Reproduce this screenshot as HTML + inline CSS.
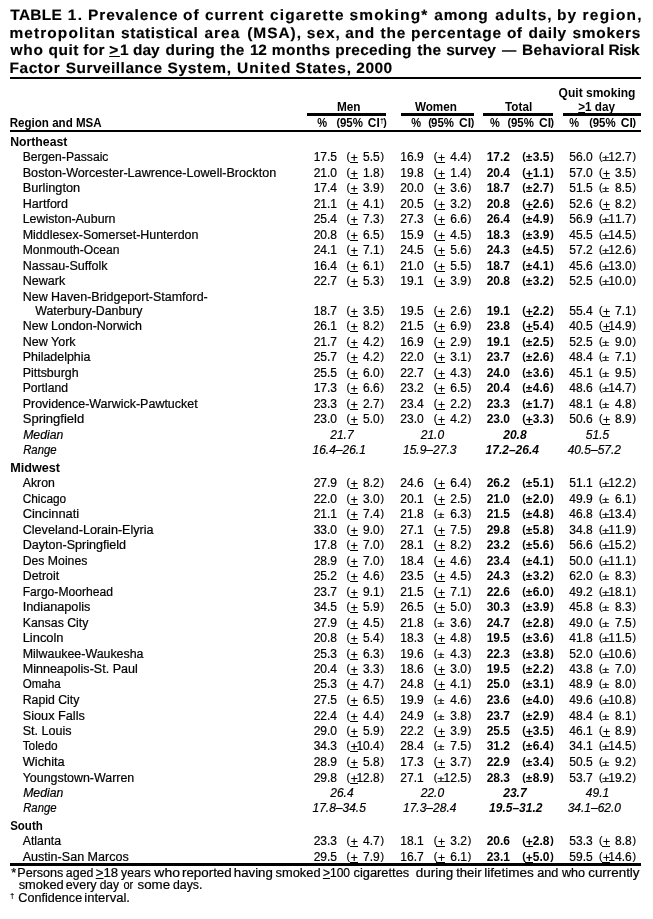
<!DOCTYPE html>
<html lang="en">
<head>
<meta charset="utf-8">
<title>TABLE 1. Prevalence of current cigarette smoking among adults</title>
<style>
html,body{margin:0;padding:0;background:#fff;}
body{width:653px;height:919px;position:relative;overflow:hidden;font-family:"Liberation Sans",sans-serif;color:#000;font-size:12.0px;line-height:14px;}
.t{position:absolute;display:block;white-space:pre;margin:0;padding:0;transform-origin:0 0;}
.t{-webkit-text-stroke:0.2px #000;}
.b{font-weight:700;-webkit-text-stroke:0;}
.i{font-style:italic;}
.n{font-kerning:none;}
.h{font-size:15.0px;line-height:18px;font-weight:700;text-rendering:geometricPrecision;-webkit-text-stroke:0.15px #000;}
.p{font-size:10.6px;}
.t u{text-decoration:underline;text-decoration-thickness:1px;text-underline-offset:1px;text-decoration-skip-ink:none;}
.r{position:absolute;background:#000;display:block;}
header,main,section,footer,.tr,.tfoot{display:block;margin:0;padding:0;}
</style>
</head>
<body>
<header class="title">
<i class="r" style="left:10px;top:77px;width:631px;height:2px"></i>
<span class="t h" style="left:10px;top:7px;transform:translateX(0.33px) scaleX(1.0300);letter-spacing:0.274px;">TABLE</span>
<span class="t h n" style="left:67px;top:7px;transform:translateX(0.63px) scaleX(1.0300);letter-spacing:1.600px;">1.</span>
<span class="t h" style="left:88px;top:7px;transform:translateX(0.07px) scaleX(1.0300);letter-spacing:0.848px;">Prevalence</span>
<span class="t h" style="left:183px;top:7px;transform:translateX(0.10px) scaleX(1.0300);letter-spacing:0.962px;">of</span>
<span class="t h" style="left:205px;top:7px;transform:translateX(0.10px) scaleX(1.0300);letter-spacing:0.803px;">current</span>
<span class="t h" style="left:269px;top:7px;transform:translateX(1.00px) scaleX(1.0300);letter-spacing:1.108px;">cigarette</span>
<span class="t h" style="left:349px;top:7px;transform:translateX(0.46px) scaleX(1.0300);letter-spacing:1.154px;">smoking*</span>
<span class="t h" style="left:434px;top:7px;transform:translateX(0.35px) scaleX(1.0300);letter-spacing:0.666px;">among</span>
<span class="t h" style="left:495px;top:7px;transform:translateX(0.25px) scaleX(1.0300);letter-spacing:1.067px;">adults,</span>
<span class="t h" style="left:557px;top:7px;transform:translateX(0.08px) scaleX(1.0300);letter-spacing:1.040px;">by</span>
<span class="t h" style="left:582px;top:7px;transform:translateX(0.58px) scaleX(1.0300);letter-spacing:1.205px;">region,</span>
<span class="t h" style="left:9px;top:25px;transform:translateX(0.48px) scaleX(1.0300);letter-spacing:1.061px;">metropolitan</span>
<span class="t h" style="left:121px;top:25px;transform:translateX(0.06px) scaleX(1.0300);letter-spacing:0.530px;">statistical</span>
<span class="t h" style="left:204px;top:25px;transform:translateX(0.45px) scaleX(1.0300);letter-spacing:0.992px;">area</span>
<span class="t h" style="left:247px;top:25px;transform:translateX(0.13px) scaleX(1.0300);letter-spacing:0.969px;">(MSA),</span>
<span class="t h" style="left:306px;top:25px;transform:translateX(0.76px) scaleX(1.0300);letter-spacing:0.941px;">sex,</span>
<span class="t h" style="left:345px;top:25px;transform:translateX(0.25px) scaleX(1.0300);letter-spacing:0.730px;">and</span>
<span class="t h" style="left:380px;top:25px;transform:translateX(0.51px) scaleX(1.0300);letter-spacing:0.845px;">the</span>
<span class="t h" style="left:410px;top:25px;transform:translateX(0.88px) scaleX(1.0300);letter-spacing:0.832px;">percentage</span>
<span class="t h" style="left:506px;top:25px;transform:translateX(0.90px) scaleX(1.0300);letter-spacing:0.380px;">of</span>
<span class="t h" style="left:528px;top:25px;transform:translateX(0.57px) scaleX(1.0300);letter-spacing:0.585px;">daily</span>
<span class="t h" style="left:572px;top:25px;transform:translateX(0.56px) scaleX(1.0300);letter-spacing:0.699px;">smokers</span>
<span class="t h" style="left:10px;top:42px;transform:translateX(0.55px) scaleX(1.0300);letter-spacing:0.760px;">who</span>
<span class="t h" style="left:48px;top:42px;transform:translateX(0.57px) scaleX(1.0300);letter-spacing:0.456px;">quit</span>
<span class="t h" style="left:83px;top:42px;transform:translateX(0.34px) scaleX(1.0300);letter-spacing:0.293px;">for</span>
<span class="t h" style="left:109px;top:42px;transform:translateX(0.21px) scaleX(1.0300);letter-spacing:1.600px;"><u>&gt;</u>1</span>
<span class="t h" style="left:132px;top:42px;transform:translateX(0.97px) scaleX(1.0300);letter-spacing:-0.003px;">day</span>
<span class="t h" style="left:165px;top:42px;transform:translateX(0.57px) scaleX(1.0300);letter-spacing:0.216px;">during</span>
<span class="t h" style="left:220px;top:42px;transform:translateX(0.21px) scaleX(1.0300);letter-spacing:0.506px;">the</span>
<span class="t h n" style="left:249px;top:42px;transform:translateX(0.93px) scaleX(1.0300);letter-spacing:-0.188px;">12</span>
<span class="t h" style="left:271px;top:42px;transform:translateX(0.78px) scaleX(1.0300);letter-spacing:0.498px;">months</span>
<span class="t h" style="left:335px;top:42px;transform:translateX(0.18px) scaleX(1.0300);letter-spacing:0.294px;">preceding</span>
<span class="t h" style="left:417px;top:42px;transform:translateX(0.21px) scaleX(1.0300);letter-spacing:0.360px;">the</span>
<span class="t h" style="left:446px;top:42px;transform:translateX(0.26px) scaleX(1.0300);letter-spacing:-0.057px;">survey</span>
<span class="t h" style="left:501px;top:42px;transform:translateX(0.90px) scaleX(0.9533);">—</span>
<span class="t h" style="left:521px;top:42px;transform:translateX(0.97px) scaleX(1.0300);letter-spacing:0.348px;">Behavioral</span>
<span class="t h" style="left:608px;top:42px;transform:translateX(0.57px) scaleX(1.0300);letter-spacing:-0.523px;">Risk</span>
<span class="t h" style="left:9px;top:60px;transform:translateX(0.47px) scaleX(1.0300);letter-spacing:0.573px;">Factor</span>
<span class="t h" style="left:65px;top:60px;transform:translateX(0.75px) scaleX(1.0300);letter-spacing:0.463px;">Surveillance</span>
<span class="t h" style="left:167px;top:60px;transform:translateX(0.55px) scaleX(1.0300);letter-spacing:0.667px;">System,</span>
<span class="t h" style="left:236px;top:60px;transform:translateX(0.97px) scaleX(1.0300);letter-spacing:1.026px;">United</span>
<span class="t h" style="left:295px;top:60px;transform:translateX(0.55px) scaleX(1.0300);letter-spacing:0.779px;">States,</span>
<span class="t h n" style="left:356px;top:60px;transform:translateX(0.36px) scaleX(1.0300);letter-spacing:0.453px;">2000</span>
</header>
<main class="table">
<section class="thead">
<i class="r" style="left:307px;top:113px;width:79px;height:3px"></i>
<i class="r" style="left:401px;top:113px;width:73px;height:3px"></i>
<i class="r" style="left:483px;top:113px;width:70px;height:3px"></i>
<i class="r" style="left:563px;top:113px;width:78px;height:3px"></i>
<i class="r" style="left:10px;top:130px;width:631px;height:2px"></i>
<span class="t b" style="left:558px;top:86px;transform:translateX(0.61px) scaleX(1.0017);">Quit smoking</span>
<span class="t b" style="left:336px;top:100px;transform:translateX(0.91px) scaleX(0.9843);">Men</span>
<span class="t b" style="left:414px;top:100px;transform:translateX(0.89px) scaleX(0.9750);">Women</span>
<span class="t b" style="left:505px;top:100px;transform:translateX(0.07px) scaleX(0.9743);">Total</span>
<span class="t b" style="left:578px;top:100px;transform:translateX(0.21px) scaleX(0.9778);"><u>&gt;</u>1 day</span>
<span class="t b" style="left:9px;top:116px;transform:translateX(0.73px) scaleX(0.9638);">Region and MSA</span>
<span class="t b" style="left:317px;top:116px;transform:translateX(0.13px) scaleX(0.9200);">%</span>
<span class="t p b" style="left:336.47px;top:115px;">(</span>
<span class="t b" style="left:339px;top:116px;transform:translateX(0.90px) scaleX(0.9534);">95%</span>
<span class="t b" style="left:367px;top:116px;transform:translateX(0.81px) scaleX(0.9902);">CI</span>
<span class="t b" style="left:380.03px;top:116px;font-size:7px;line-height:10px;">†</span>
<span class="t p b" style="left:383.30px;top:115px;">)</span>
<span class="t b" style="left:411px;top:116px;transform:translateX(0.13px) scaleX(0.9200);">%</span>
<span class="t p b" style="left:428.37px;top:115px;">(</span>
<span class="t b" style="left:431px;top:116px;transform:translateX(0.10px) scaleX(0.9534);">95%</span>
<span class="t b" style="left:459px;top:116px;transform:translateX(0.10px) scaleX(1.0089);">CI</span>
<span class="t p b" style="left:470.80px;top:115px;">)</span>
<span class="t b" style="left:490px;top:116px;transform:translateX(0.03px) scaleX(0.9200);">%</span>
<span class="t p b" style="left:507.47px;top:115px;">(</span>
<span class="t b" style="left:510px;top:116px;transform:translateX(0.90px) scaleX(0.9534);">95%</span>
<span class="t b" style="left:538px;top:116px;transform:translateX(0.90px) scaleX(1.0089);">CI</span>
<span class="t p b" style="left:550.60px;top:115px;">)</span>
<span class="t b" style="left:569px;top:116px;transform:translateX(0.13px) scaleX(0.9200);">%</span>
<span class="t p b" style="left:589.27px;top:115px;">(</span>
<span class="t b" style="left:592px;top:116px;transform:translateX(0.70px) scaleX(0.9534);">95%</span>
<span class="t b" style="left:620px;top:116px;transform:translateX(0.70px) scaleX(1.0089);">CI</span>
<span class="t p b" style="left:632.40px;top:115px;">)</span>
</section>
<div class="tr grp">
<span class="t b" style="left:10px;top:135px;transform:translateX(0.20px) scaleX(1.0203);">Northeast</span>
</div>
<div class="tr row">
<i class="r" style="left:350px;top:162px;width:8px;height:1px"></i>
<i class="r" style="left:436px;top:162px;width:9px;height:1px"></i>
<span class="t" style="left:22px;top:150px;transform:translateX(0.70px) scaleX(1.0119);">Bergen-Passaic</span>
<span class="t n" style="left:313.65px;top:150px;">17.5</span>
<span class="t p" style="left:346.59px;top:149px;">(</span>
<span class="t" style="left:350.86px;top:151px;">+</span>
<span class="t n" style="left:363.12px;top:150px;">5.5</span>
<span class="t p" style="left:380.53px;top:149px;">)</span>
<span class="t n" style="left:400.35px;top:150px;">16.9</span>
<span class="t p" style="left:433.84px;top:149px;">(</span>
<span class="t" style="left:438.11px;top:151px;">+</span>
<span class="t n" style="left:450.22px;top:150px;">4.4</span>
<span class="t p" style="left:467.63px;top:149px;">)</span>
<span class="t b n" style="left:486.68px;top:150px;">17.2</span>
<span class="t p b" style="left:522.27px;top:149px;">(</span>
<span class="t b" style="left:525px;top:150px;transform:translateX(0.81px) scale(1,0.9);transform-origin:0 11px;">±</span>
<span class="t b n" style="left:532.82px;top:150px;">3.5</span>
<span class="t p b" style="left:550.30px;top:149px;">)</span>
<span class="t n" style="left:569.35px;top:150px;">56.0</span>
<span class="t p" style="left:598.94px;top:149px;">(</span>
<span class="t" style="left:602px;top:150px;transform:translateX(0.30px) scale(1.05,0.7);transform-origin:0 11px;">±</span>
<span class="t n" style="left:608.34px;top:150px;">12.7</span>
<span class="t p" style="left:632.43px;top:149px;">)</span>
</div>
<div class="tr row">
<i class="r" style="left:350px;top:178px;width:8px;height:1px"></i>
<i class="r" style="left:436px;top:178px;width:9px;height:1px"></i>
<i class="r" style="left:525px;top:178px;width:8px;height:1px"></i>
<i class="r" style="left:602px;top:178px;width:8px;height:1px"></i>
<span class="t" style="left:22px;top:166px;transform:translateX(0.70px) scaleX(1.0510);">Boston-Worcester-Lawrence-Lowell-Brockton</span>
<span class="t n" style="left:313.65px;top:166px;">21.0</span>
<span class="t p" style="left:346.59px;top:165px;">(</span>
<span class="t" style="left:350.86px;top:167px;">+</span>
<span class="t n" style="left:363.12px;top:166px;">1.8</span>
<span class="t p" style="left:380.53px;top:165px;">)</span>
<span class="t n" style="left:400.35px;top:166px;">19.8</span>
<span class="t p" style="left:433.84px;top:165px;">(</span>
<span class="t" style="left:438.11px;top:167px;">+</span>
<span class="t n" style="left:450.22px;top:166px;">1.4</span>
<span class="t p" style="left:467.63px;top:165px;">)</span>
<span class="t b n" style="left:486.68px;top:166px;">20.4</span>
<span class="t p b" style="left:522.27px;top:165px;">(</span>
<span class="t b" style="left:525.80px;top:167px;">+</span>
<span class="t b n" style="left:532.82px;top:166px;">1.1</span>
<span class="t p b" style="left:550.30px;top:165px;">)</span>
<span class="t n" style="left:569.35px;top:166px;">57.0</span>
<span class="t p" style="left:598.94px;top:165px;">(</span>
<span class="t" style="left:603.01px;top:167px;">+</span>
<span class="t n" style="left:615.02px;top:166px;">3.5</span>
<span class="t p" style="left:632.43px;top:165px;">)</span>
</div>
<div class="tr row">
<i class="r" style="left:350px;top:193px;width:8px;height:1px"></i>
<i class="r" style="left:436px;top:193px;width:9px;height:1px"></i>
<span class="t" style="left:22px;top:181px;transform:translateX(0.70px) scaleX(1.0628);">Burlington</span>
<span class="t n" style="left:313.65px;top:181px;">17.4</span>
<span class="t p" style="left:346.59px;top:180px;">(</span>
<span class="t" style="left:350.86px;top:182px;">+</span>
<span class="t n" style="left:363.12px;top:181px;">3.9</span>
<span class="t p" style="left:380.53px;top:180px;">)</span>
<span class="t n" style="left:400.35px;top:181px;">20.0</span>
<span class="t p" style="left:433.84px;top:180px;">(</span>
<span class="t" style="left:438.11px;top:182px;">+</span>
<span class="t n" style="left:450.22px;top:181px;">3.6</span>
<span class="t p" style="left:467.63px;top:180px;">)</span>
<span class="t b n" style="left:486.68px;top:181px;">18.7</span>
<span class="t p b" style="left:522.27px;top:180px;">(</span>
<span class="t b" style="left:525px;top:181px;transform:translateX(0.81px) scale(1,0.9);transform-origin:0 11px;">±</span>
<span class="t b n" style="left:532.82px;top:181px;">2.7</span>
<span class="t p b" style="left:550.30px;top:180px;">)</span>
<span class="t n" style="left:569.35px;top:181px;">51.5</span>
<span class="t p" style="left:598.94px;top:180px;">(</span>
<span class="t" style="left:602px;top:181px;transform:translateX(0.30px) scale(1.05,0.7);transform-origin:0 11px;">±</span>
<span class="t n" style="left:615.02px;top:181px;">8.5</span>
<span class="t p" style="left:632.43px;top:180px;">)</span>
</div>
<div class="tr row">
<i class="r" style="left:350px;top:209px;width:8px;height:1px"></i>
<i class="r" style="left:436px;top:209px;width:9px;height:1px"></i>
<i class="r" style="left:525px;top:209px;width:8px;height:1px"></i>
<i class="r" style="left:602px;top:209px;width:8px;height:1px"></i>
<span class="t" style="left:22px;top:197px;transform:translateX(0.70px) scaleX(1.0452);">Hartford</span>
<span class="t n" style="left:313.65px;top:197px;">21.1</span>
<span class="t p" style="left:346.59px;top:196px;">(</span>
<span class="t" style="left:350.86px;top:198px;">+</span>
<span class="t n" style="left:363.12px;top:197px;">4.1</span>
<span class="t p" style="left:380.53px;top:196px;">)</span>
<span class="t n" style="left:400.35px;top:197px;">20.5</span>
<span class="t p" style="left:433.84px;top:196px;">(</span>
<span class="t" style="left:438.11px;top:198px;">+</span>
<span class="t n" style="left:450.22px;top:197px;">3.2</span>
<span class="t p" style="left:467.63px;top:196px;">)</span>
<span class="t b n" style="left:486.68px;top:197px;">20.8</span>
<span class="t p b" style="left:522.27px;top:196px;">(</span>
<span class="t b" style="left:525.80px;top:198px;">+</span>
<span class="t b n" style="left:532.82px;top:197px;">2.6</span>
<span class="t p b" style="left:550.30px;top:196px;">)</span>
<span class="t n" style="left:569.35px;top:197px;">52.6</span>
<span class="t p" style="left:598.94px;top:196px;">(</span>
<span class="t" style="left:603.01px;top:198px;">+</span>
<span class="t n" style="left:615.02px;top:197px;">8.2</span>
<span class="t p" style="left:632.43px;top:196px;">)</span>
</div>
<div class="tr row">
<i class="r" style="left:350px;top:224px;width:8px;height:1px"></i>
<i class="r" style="left:436px;top:224px;width:9px;height:1px"></i>
<span class="t" style="left:22px;top:212px;transform:translateX(0.70px) scaleX(1.0305);">Lewiston-Auburn</span>
<span class="t n" style="left:313.65px;top:212px;">25.4</span>
<span class="t p" style="left:346.59px;top:211px;">(</span>
<span class="t" style="left:350.86px;top:213px;">+</span>
<span class="t n" style="left:363.12px;top:212px;">7.3</span>
<span class="t p" style="left:380.53px;top:211px;">)</span>
<span class="t n" style="left:400.35px;top:212px;">27.3</span>
<span class="t p" style="left:433.84px;top:211px;">(</span>
<span class="t" style="left:438.11px;top:213px;">+</span>
<span class="t n" style="left:450.22px;top:212px;">6.6</span>
<span class="t p" style="left:467.63px;top:211px;">)</span>
<span class="t b n" style="left:486.68px;top:212px;">26.4</span>
<span class="t p b" style="left:522.27px;top:211px;">(</span>
<span class="t b" style="left:525px;top:212px;transform:translateX(0.81px) scale(1,0.9);transform-origin:0 11px;">±</span>
<span class="t b n" style="left:532.82px;top:212px;">4.9</span>
<span class="t p b" style="left:550.30px;top:211px;">)</span>
<span class="t n" style="left:569.35px;top:212px;">56.9</span>
<span class="t p" style="left:598.94px;top:211px;">(</span>
<span class="t" style="left:602px;top:212px;transform:translateX(0.30px) scale(1.05,0.7);transform-origin:0 11px;">±</span>
<span class="t n" style="left:608.34px;top:212px;">11.7</span>
<span class="t p" style="left:632.43px;top:211px;">)</span>
</div>
<div class="tr row">
<i class="r" style="left:350px;top:240px;width:8px;height:1px"></i>
<i class="r" style="left:436px;top:240px;width:9px;height:1px"></i>
<span class="t" style="left:22px;top:228px;transform:translateX(0.70px) scaleX(1.0372);">Middlesex-Somerset-Hunterdon</span>
<span class="t n" style="left:313.65px;top:228px;">20.8</span>
<span class="t p" style="left:346.59px;top:227px;">(</span>
<span class="t" style="left:350.86px;top:229px;">+</span>
<span class="t n" style="left:363.12px;top:228px;">6.5</span>
<span class="t p" style="left:380.53px;top:227px;">)</span>
<span class="t n" style="left:400.35px;top:228px;">15.9</span>
<span class="t p" style="left:433.84px;top:227px;">(</span>
<span class="t" style="left:438.11px;top:229px;">+</span>
<span class="t n" style="left:450.22px;top:228px;">4.5</span>
<span class="t p" style="left:467.63px;top:227px;">)</span>
<span class="t b n" style="left:486.68px;top:228px;">18.3</span>
<span class="t p b" style="left:522.27px;top:227px;">(</span>
<span class="t b" style="left:525px;top:228px;transform:translateX(0.81px) scale(1,0.9);transform-origin:0 11px;">±</span>
<span class="t b n" style="left:532.82px;top:228px;">3.9</span>
<span class="t p b" style="left:550.30px;top:227px;">)</span>
<span class="t n" style="left:569.35px;top:228px;">45.5</span>
<span class="t p" style="left:598.94px;top:227px;">(</span>
<span class="t" style="left:602px;top:228px;transform:translateX(0.30px) scale(1.05,0.7);transform-origin:0 11px;">±</span>
<span class="t n" style="left:608.34px;top:228px;">14.5</span>
<span class="t p" style="left:632.43px;top:227px;">)</span>
</div>
<div class="tr row">
<i class="r" style="left:350px;top:255px;width:8px;height:1px"></i>
<i class="r" style="left:436px;top:255px;width:9px;height:1px"></i>
<span class="t" style="left:22px;top:243px;transform:translateX(0.70px) scaleX(1.0077);">Monmouth-Ocean</span>
<span class="t n" style="left:313.65px;top:243px;">24.1</span>
<span class="t p" style="left:346.59px;top:242px;">(</span>
<span class="t" style="left:350.86px;top:244px;">+</span>
<span class="t n" style="left:363.12px;top:243px;">7.1</span>
<span class="t p" style="left:380.53px;top:242px;">)</span>
<span class="t n" style="left:400.35px;top:243px;">24.5</span>
<span class="t p" style="left:433.84px;top:242px;">(</span>
<span class="t" style="left:438.11px;top:244px;">+</span>
<span class="t n" style="left:450.22px;top:243px;">5.6</span>
<span class="t p" style="left:467.63px;top:242px;">)</span>
<span class="t b n" style="left:486.68px;top:243px;">24.3</span>
<span class="t p b" style="left:522.27px;top:242px;">(</span>
<span class="t b" style="left:525px;top:243px;transform:translateX(0.81px) scale(1,0.9);transform-origin:0 11px;">±</span>
<span class="t b n" style="left:532.82px;top:243px;">4.5</span>
<span class="t p b" style="left:550.30px;top:242px;">)</span>
<span class="t n" style="left:569.35px;top:243px;">57.2</span>
<span class="t p" style="left:598.94px;top:242px;">(</span>
<span class="t" style="left:602px;top:243px;transform:translateX(0.30px) scale(1.05,0.7);transform-origin:0 11px;">±</span>
<span class="t n" style="left:608.34px;top:243px;">12.6</span>
<span class="t p" style="left:632.43px;top:242px;">)</span>
</div>
<div class="tr row">
<i class="r" style="left:350px;top:271px;width:8px;height:1px"></i>
<i class="r" style="left:436px;top:271px;width:9px;height:1px"></i>
<span class="t" style="left:22px;top:259px;transform:translateX(0.70px) scaleX(1.0460);">Nassau-Suffolk</span>
<span class="t n" style="left:313.65px;top:259px;">16.4</span>
<span class="t p" style="left:346.59px;top:258px;">(</span>
<span class="t" style="left:350.86px;top:260px;">+</span>
<span class="t n" style="left:363.12px;top:259px;">6.1</span>
<span class="t p" style="left:380.53px;top:258px;">)</span>
<span class="t n" style="left:400.35px;top:259px;">21.0</span>
<span class="t p" style="left:433.84px;top:258px;">(</span>
<span class="t" style="left:438.11px;top:260px;">+</span>
<span class="t n" style="left:450.22px;top:259px;">5.5</span>
<span class="t p" style="left:467.63px;top:258px;">)</span>
<span class="t b n" style="left:486.68px;top:259px;">18.7</span>
<span class="t p b" style="left:522.27px;top:258px;">(</span>
<span class="t b" style="left:525px;top:259px;transform:translateX(0.81px) scale(1,0.9);transform-origin:0 11px;">±</span>
<span class="t b n" style="left:532.82px;top:259px;">4.1</span>
<span class="t p b" style="left:550.30px;top:258px;">)</span>
<span class="t n" style="left:569.35px;top:259px;">45.6</span>
<span class="t p" style="left:598.94px;top:258px;">(</span>
<span class="t" style="left:602px;top:259px;transform:translateX(0.30px) scale(1.05,0.7);transform-origin:0 11px;">±</span>
<span class="t n" style="left:608.34px;top:259px;">13.0</span>
<span class="t p" style="left:632.43px;top:258px;">)</span>
</div>
<div class="tr row">
<i class="r" style="left:350px;top:286px;width:8px;height:1px"></i>
<i class="r" style="left:436px;top:286px;width:9px;height:1px"></i>
<span class="t" style="left:22px;top:274px;transform:translateX(0.70px) scaleX(1.0444);">Newark</span>
<span class="t n" style="left:313.65px;top:274px;">22.7</span>
<span class="t p" style="left:346.59px;top:273px;">(</span>
<span class="t" style="left:350.86px;top:275px;">+</span>
<span class="t n" style="left:363.12px;top:274px;">5.3</span>
<span class="t p" style="left:380.53px;top:273px;">)</span>
<span class="t n" style="left:400.35px;top:274px;">19.1</span>
<span class="t p" style="left:433.84px;top:273px;">(</span>
<span class="t" style="left:438.11px;top:275px;">+</span>
<span class="t n" style="left:450.22px;top:274px;">3.9</span>
<span class="t p" style="left:467.63px;top:273px;">)</span>
<span class="t b n" style="left:486.68px;top:274px;">20.8</span>
<span class="t p b" style="left:522.27px;top:273px;">(</span>
<span class="t b" style="left:525px;top:274px;transform:translateX(0.81px) scale(1,0.9);transform-origin:0 11px;">±</span>
<span class="t b n" style="left:532.82px;top:274px;">3.2</span>
<span class="t p b" style="left:550.30px;top:273px;">)</span>
<span class="t n" style="left:569.35px;top:274px;">52.5</span>
<span class="t p" style="left:598.94px;top:273px;">(</span>
<span class="t" style="left:602px;top:274px;transform:translateX(0.30px) scale(1.05,0.7);transform-origin:0 11px;">±</span>
<span class="t n" style="left:608.34px;top:274px;">10.0</span>
<span class="t p" style="left:632.43px;top:273px;">)</span>
</div>
<div class="tr row">
<span class="t" style="left:22px;top:290px;transform:translateX(0.70px) scaleX(1.0392);">New Haven-Bridgeport-Stamford-</span>
</div>
<div class="tr row">
<i class="r" style="left:350px;top:316px;width:8px;height:1px"></i>
<i class="r" style="left:436px;top:316px;width:9px;height:1px"></i>
<i class="r" style="left:525px;top:316px;width:8px;height:1px"></i>
<i class="r" style="left:602px;top:316px;width:8px;height:1px"></i>
<span class="t" style="left:35px;top:304px;transform:translateX(0.20px) scaleX(1.0294);">Waterbury-Danbury</span>
<span class="t n" style="left:313.65px;top:304px;">18.7</span>
<span class="t p" style="left:346.59px;top:303px;">(</span>
<span class="t" style="left:350.86px;top:305px;">+</span>
<span class="t n" style="left:363.12px;top:304px;">3.5</span>
<span class="t p" style="left:380.53px;top:303px;">)</span>
<span class="t n" style="left:400.35px;top:304px;">19.5</span>
<span class="t p" style="left:433.84px;top:303px;">(</span>
<span class="t" style="left:438.11px;top:305px;">+</span>
<span class="t n" style="left:450.22px;top:304px;">2.6</span>
<span class="t p" style="left:467.63px;top:303px;">)</span>
<span class="t b n" style="left:486.68px;top:304px;">19.1</span>
<span class="t p b" style="left:522.27px;top:303px;">(</span>
<span class="t b" style="left:525.80px;top:305px;">+</span>
<span class="t b n" style="left:532.82px;top:304px;">2.2</span>
<span class="t p b" style="left:550.30px;top:303px;">)</span>
<span class="t n" style="left:569.35px;top:304px;">55.4</span>
<span class="t p" style="left:598.94px;top:303px;">(</span>
<span class="t" style="left:603.01px;top:305px;">+</span>
<span class="t n" style="left:615.02px;top:304px;">7.1</span>
<span class="t p" style="left:632.43px;top:303px;">)</span>
</div>
<div class="tr row">
<i class="r" style="left:350px;top:331px;width:8px;height:1px"></i>
<i class="r" style="left:436px;top:331px;width:9px;height:1px"></i>
<i class="r" style="left:525px;top:331px;width:8px;height:1px"></i>
<i class="r" style="left:602px;top:331px;width:8px;height:1px"></i>
<span class="t" style="left:22px;top:319px;transform:translateX(0.70px) scaleX(1.0383);">New London-Norwich</span>
<span class="t n" style="left:313.65px;top:319px;">26.1</span>
<span class="t p" style="left:346.59px;top:318px;">(</span>
<span class="t" style="left:350.86px;top:320px;">+</span>
<span class="t n" style="left:363.12px;top:319px;">8.2</span>
<span class="t p" style="left:380.53px;top:318px;">)</span>
<span class="t n" style="left:400.35px;top:319px;">21.5</span>
<span class="t p" style="left:433.84px;top:318px;">(</span>
<span class="t" style="left:438.11px;top:320px;">+</span>
<span class="t n" style="left:450.22px;top:319px;">6.9</span>
<span class="t p" style="left:467.63px;top:318px;">)</span>
<span class="t b n" style="left:486.68px;top:319px;">23.8</span>
<span class="t p b" style="left:522.27px;top:318px;">(</span>
<span class="t b" style="left:525.80px;top:320px;">+</span>
<span class="t b n" style="left:532.82px;top:319px;">5.4</span>
<span class="t p b" style="left:550.30px;top:318px;">)</span>
<span class="t n" style="left:569.35px;top:319px;">40.5</span>
<span class="t p" style="left:598.94px;top:318px;">(</span>
<span class="t" style="left:603.01px;top:320px;">+</span>
<span class="t n" style="left:608.34px;top:319px;">14.9</span>
<span class="t p" style="left:632.43px;top:318px;">)</span>
</div>
<div class="tr row">
<i class="r" style="left:350px;top:347px;width:8px;height:1px"></i>
<i class="r" style="left:436px;top:347px;width:9px;height:1px"></i>
<span class="t" style="left:22px;top:335px;transform:translateX(0.70px) scaleX(1.0426);">New York</span>
<span class="t n" style="left:313.65px;top:335px;">21.7</span>
<span class="t p" style="left:346.59px;top:334px;">(</span>
<span class="t" style="left:350.86px;top:336px;">+</span>
<span class="t n" style="left:363.12px;top:335px;">4.2</span>
<span class="t p" style="left:380.53px;top:334px;">)</span>
<span class="t n" style="left:400.35px;top:335px;">16.9</span>
<span class="t p" style="left:433.84px;top:334px;">(</span>
<span class="t" style="left:438.11px;top:336px;">+</span>
<span class="t n" style="left:450.22px;top:335px;">2.9</span>
<span class="t p" style="left:467.63px;top:334px;">)</span>
<span class="t b n" style="left:486.68px;top:335px;">19.1</span>
<span class="t p b" style="left:522.27px;top:334px;">(</span>
<span class="t b" style="left:525px;top:335px;transform:translateX(0.81px) scale(1,0.9);transform-origin:0 11px;">±</span>
<span class="t b n" style="left:532.82px;top:335px;">2.5</span>
<span class="t p b" style="left:550.30px;top:334px;">)</span>
<span class="t n" style="left:569.35px;top:335px;">52.5</span>
<span class="t p" style="left:598.94px;top:334px;">(</span>
<span class="t" style="left:602px;top:335px;transform:translateX(0.30px) scale(1.05,0.7);transform-origin:0 11px;">±</span>
<span class="t n" style="left:615.02px;top:335px;">9.0</span>
<span class="t p" style="left:632.43px;top:334px;">)</span>
</div>
<div class="tr row">
<i class="r" style="left:350px;top:362px;width:8px;height:1px"></i>
<i class="r" style="left:436px;top:362px;width:9px;height:1px"></i>
<span class="t" style="left:22px;top:350px;transform:translateX(0.70px) scaleX(1.0354);">Philadelphia</span>
<span class="t n" style="left:313.65px;top:350px;">25.7</span>
<span class="t p" style="left:346.59px;top:349px;">(</span>
<span class="t" style="left:350.86px;top:351px;">+</span>
<span class="t n" style="left:363.12px;top:350px;">4.2</span>
<span class="t p" style="left:380.53px;top:349px;">)</span>
<span class="t n" style="left:400.35px;top:350px;">22.0</span>
<span class="t p" style="left:433.84px;top:349px;">(</span>
<span class="t" style="left:438.11px;top:351px;">+</span>
<span class="t n" style="left:450.22px;top:350px;">3.1</span>
<span class="t p" style="left:467.63px;top:349px;">)</span>
<span class="t b n" style="left:486.68px;top:350px;">23.7</span>
<span class="t p b" style="left:522.27px;top:349px;">(</span>
<span class="t b" style="left:525px;top:350px;transform:translateX(0.81px) scale(1,0.9);transform-origin:0 11px;">±</span>
<span class="t b n" style="left:532.82px;top:350px;">2.6</span>
<span class="t p b" style="left:550.30px;top:349px;">)</span>
<span class="t n" style="left:569.35px;top:350px;">48.4</span>
<span class="t p" style="left:598.94px;top:349px;">(</span>
<span class="t" style="left:602px;top:350px;transform:translateX(0.30px) scale(1.05,0.7);transform-origin:0 11px;">±</span>
<span class="t n" style="left:615.02px;top:350px;">7.1</span>
<span class="t p" style="left:632.43px;top:349px;">)</span>
</div>
<div class="tr row">
<i class="r" style="left:350px;top:378px;width:8px;height:1px"></i>
<i class="r" style="left:436px;top:378px;width:9px;height:1px"></i>
<span class="t" style="left:22px;top:366px;transform:translateX(0.70px) scaleX(1.0347);">Pittsburgh</span>
<span class="t n" style="left:313.65px;top:366px;">25.5</span>
<span class="t p" style="left:346.59px;top:365px;">(</span>
<span class="t" style="left:350.86px;top:367px;">+</span>
<span class="t n" style="left:363.12px;top:366px;">6.0</span>
<span class="t p" style="left:380.53px;top:365px;">)</span>
<span class="t n" style="left:400.35px;top:366px;">22.7</span>
<span class="t p" style="left:433.84px;top:365px;">(</span>
<span class="t" style="left:438.11px;top:367px;">+</span>
<span class="t n" style="left:450.22px;top:366px;">4.3</span>
<span class="t p" style="left:467.63px;top:365px;">)</span>
<span class="t b n" style="left:486.68px;top:366px;">24.0</span>
<span class="t p b" style="left:522.27px;top:365px;">(</span>
<span class="t b" style="left:525px;top:366px;transform:translateX(0.81px) scale(1,0.9);transform-origin:0 11px;">±</span>
<span class="t b n" style="left:532.82px;top:366px;">3.6</span>
<span class="t p b" style="left:550.30px;top:365px;">)</span>
<span class="t n" style="left:569.35px;top:366px;">45.1</span>
<span class="t p" style="left:598.94px;top:365px;">(</span>
<span class="t" style="left:602px;top:366px;transform:translateX(0.30px) scale(1.05,0.7);transform-origin:0 11px;">±</span>
<span class="t n" style="left:615.02px;top:366px;">9.5</span>
<span class="t p" style="left:632.43px;top:365px;">)</span>
</div>
<div class="tr row">
<i class="r" style="left:350px;top:393px;width:8px;height:1px"></i>
<i class="r" style="left:436px;top:393px;width:9px;height:1px"></i>
<span class="t" style="left:22px;top:381px;transform:translateX(0.70px) scaleX(1.0132);">Portland</span>
<span class="t n" style="left:313.65px;top:381px;">17.3</span>
<span class="t p" style="left:346.59px;top:380px;">(</span>
<span class="t" style="left:350.86px;top:382px;">+</span>
<span class="t n" style="left:363.12px;top:381px;">6.6</span>
<span class="t p" style="left:380.53px;top:380px;">)</span>
<span class="t n" style="left:400.35px;top:381px;">23.2</span>
<span class="t p" style="left:433.84px;top:380px;">(</span>
<span class="t" style="left:438.11px;top:382px;">+</span>
<span class="t n" style="left:450.22px;top:381px;">6.5</span>
<span class="t p" style="left:467.63px;top:380px;">)</span>
<span class="t b n" style="left:486.68px;top:381px;">20.4</span>
<span class="t p b" style="left:522.27px;top:380px;">(</span>
<span class="t b" style="left:525px;top:381px;transform:translateX(0.81px) scale(1,0.9);transform-origin:0 11px;">±</span>
<span class="t b n" style="left:532.82px;top:381px;">4.6</span>
<span class="t p b" style="left:550.30px;top:380px;">)</span>
<span class="t n" style="left:569.35px;top:381px;">48.6</span>
<span class="t p" style="left:598.94px;top:380px;">(</span>
<span class="t" style="left:602px;top:381px;transform:translateX(0.30px) scale(1.05,0.7);transform-origin:0 11px;">±</span>
<span class="t n" style="left:608.34px;top:381px;">14.7</span>
<span class="t p" style="left:632.43px;top:380px;">)</span>
</div>
<div class="tr row">
<i class="r" style="left:350px;top:409px;width:8px;height:1px"></i>
<i class="r" style="left:436px;top:409px;width:9px;height:1px"></i>
<span class="t" style="left:22px;top:397px;transform:translateX(0.70px) scaleX(1.0399);">Providence-Warwick-Pawtucket</span>
<span class="t n" style="left:313.65px;top:397px;">23.3</span>
<span class="t p" style="left:346.59px;top:396px;">(</span>
<span class="t" style="left:350.86px;top:398px;">+</span>
<span class="t n" style="left:363.12px;top:397px;">2.7</span>
<span class="t p" style="left:380.53px;top:396px;">)</span>
<span class="t n" style="left:400.35px;top:397px;">23.4</span>
<span class="t p" style="left:433.84px;top:396px;">(</span>
<span class="t" style="left:438.11px;top:398px;">+</span>
<span class="t n" style="left:450.22px;top:397px;">2.2</span>
<span class="t p" style="left:467.63px;top:396px;">)</span>
<span class="t b n" style="left:486.68px;top:397px;">23.3</span>
<span class="t p b" style="left:522.27px;top:396px;">(</span>
<span class="t b" style="left:525px;top:397px;transform:translateX(0.81px) scale(1,0.9);transform-origin:0 11px;">±</span>
<span class="t b n" style="left:532.82px;top:397px;">1.7</span>
<span class="t p b" style="left:550.30px;top:396px;">)</span>
<span class="t n" style="left:569.35px;top:397px;">48.1</span>
<span class="t p" style="left:598.94px;top:396px;">(</span>
<span class="t" style="left:602px;top:397px;transform:translateX(0.30px) scale(1.05,0.7);transform-origin:0 11px;">±</span>
<span class="t n" style="left:615.02px;top:397px;">4.8</span>
<span class="t p" style="left:632.43px;top:396px;">)</span>
</div>
<div class="tr row">
<i class="r" style="left:350px;top:424px;width:8px;height:1px"></i>
<i class="r" style="left:436px;top:424px;width:9px;height:1px"></i>
<i class="r" style="left:525px;top:424px;width:8px;height:1px"></i>
<i class="r" style="left:602px;top:424px;width:8px;height:1px"></i>
<span class="t" style="left:22px;top:412px;transform:translateX(0.70px) scaleX(1.0853);">Springfield</span>
<span class="t n" style="left:313.65px;top:412px;">23.0</span>
<span class="t p" style="left:346.59px;top:411px;">(</span>
<span class="t" style="left:350.86px;top:413px;">+</span>
<span class="t n" style="left:363.12px;top:412px;">5.0</span>
<span class="t p" style="left:380.53px;top:411px;">)</span>
<span class="t n" style="left:400.35px;top:412px;">23.0</span>
<span class="t p" style="left:433.84px;top:411px;">(</span>
<span class="t" style="left:438.11px;top:413px;">+</span>
<span class="t n" style="left:450.22px;top:412px;">4.2</span>
<span class="t p" style="left:467.63px;top:411px;">)</span>
<span class="t b n" style="left:486.68px;top:412px;">23.0</span>
<span class="t p b" style="left:522.27px;top:411px;">(</span>
<span class="t b" style="left:525.80px;top:413px;">+</span>
<span class="t b n" style="left:532.82px;top:412px;">3.3</span>
<span class="t p b" style="left:550.30px;top:411px;">)</span>
<span class="t n" style="left:569.35px;top:412px;">50.6</span>
<span class="t p" style="left:598.94px;top:411px;">(</span>
<span class="t" style="left:603.01px;top:413px;">+</span>
<span class="t n" style="left:615.02px;top:412px;">8.9</span>
<span class="t p" style="left:632.43px;top:411px;">)</span>
</div>
<div class="tr stat">
<span class="t i" style="left:23px;top:428px;transform:translateX(0.20px) scaleX(1.0177);">Median</span>
<span class="t i n" style="left:330.22px;top:428px;">21.7</span>
<span class="t i n" style="left:420.76px;top:428px;">21.0</span>
<span class="t b i n" style="left:503.27px;top:428px;">20.8</span>
<span class="t i n" style="left:585.87px;top:428px;">51.5</span>
</div>
<div class="tr stat">
<span class="t i" style="left:23px;top:443px;transform:translateX(0.20px) scaleX(0.9423);">Range</span>
<span class="t i n" style="left:312.46px;top:443px;">16.4–26.1</span>
<span class="t i n" style="left:403.01px;top:443px;">15.9–27.3</span>
<span class="t b i n" style="left:485.56px;top:443px;">17.2–26.4</span>
<span class="t i n" style="left:567.66px;top:443px;">40.5–57.2</span>
</div>
<div class="tr grp">
<span class="t b" style="left:10px;top:461px;transform:translateX(0.20px) scaleX(1.0532);">Midwest</span>
</div>
<div class="tr row">
<i class="r" style="left:350px;top:488px;width:8px;height:1px"></i>
<i class="r" style="left:436px;top:488px;width:9px;height:1px"></i>
<span class="t" style="left:22px;top:476px;transform:translateX(0.70px) scaleX(1.0239);">Akron</span>
<span class="t n" style="left:313.65px;top:476px;">27.9</span>
<span class="t p" style="left:346.59px;top:475px;">(</span>
<span class="t" style="left:350.86px;top:477px;">+</span>
<span class="t n" style="left:363.12px;top:476px;">8.2</span>
<span class="t p" style="left:380.53px;top:475px;">)</span>
<span class="t n" style="left:400.35px;top:476px;">24.6</span>
<span class="t p" style="left:433.84px;top:475px;">(</span>
<span class="t" style="left:438.11px;top:477px;">+</span>
<span class="t n" style="left:450.22px;top:476px;">6.4</span>
<span class="t p" style="left:467.63px;top:475px;">)</span>
<span class="t b n" style="left:486.68px;top:476px;">26.2</span>
<span class="t p b" style="left:522.27px;top:475px;">(</span>
<span class="t b" style="left:525px;top:476px;transform:translateX(0.81px) scale(1,0.9);transform-origin:0 11px;">±</span>
<span class="t b n" style="left:532.82px;top:476px;">5.1</span>
<span class="t p b" style="left:550.30px;top:475px;">)</span>
<span class="t n" style="left:569.35px;top:476px;">51.1</span>
<span class="t p" style="left:598.94px;top:475px;">(</span>
<span class="t" style="left:602px;top:476px;transform:translateX(0.30px) scale(1.05,0.7);transform-origin:0 11px;">±</span>
<span class="t n" style="left:608.34px;top:476px;">12.2</span>
<span class="t p" style="left:632.43px;top:475px;">)</span>
</div>
<div class="tr row">
<i class="r" style="left:350px;top:504px;width:8px;height:1px"></i>
<i class="r" style="left:436px;top:504px;width:9px;height:1px"></i>
<span class="t" style="left:22px;top:492px;transform:translateX(0.70px) scaleX(0.9880);">Chicago</span>
<span class="t n" style="left:313.65px;top:492px;">22.0</span>
<span class="t p" style="left:346.59px;top:491px;">(</span>
<span class="t" style="left:350.86px;top:493px;">+</span>
<span class="t n" style="left:363.12px;top:492px;">3.0</span>
<span class="t p" style="left:380.53px;top:491px;">)</span>
<span class="t n" style="left:400.35px;top:492px;">20.1</span>
<span class="t p" style="left:433.84px;top:491px;">(</span>
<span class="t" style="left:438.11px;top:493px;">+</span>
<span class="t n" style="left:450.22px;top:492px;">2.5</span>
<span class="t p" style="left:467.63px;top:491px;">)</span>
<span class="t b n" style="left:486.68px;top:492px;">21.0</span>
<span class="t p b" style="left:522.27px;top:491px;">(</span>
<span class="t b" style="left:525px;top:492px;transform:translateX(0.81px) scale(1,0.9);transform-origin:0 11px;">±</span>
<span class="t b n" style="left:532.82px;top:492px;">2.0</span>
<span class="t p b" style="left:550.30px;top:491px;">)</span>
<span class="t n" style="left:569.35px;top:492px;">49.9</span>
<span class="t p" style="left:598.94px;top:491px;">(</span>
<span class="t" style="left:602px;top:492px;transform:translateX(0.30px) scale(1.05,0.7);transform-origin:0 11px;">±</span>
<span class="t n" style="left:615.02px;top:492px;">6.1</span>
<span class="t p" style="left:632.43px;top:491px;">)</span>
</div>
<div class="tr row">
<i class="r" style="left:350px;top:519px;width:8px;height:1px"></i>
<span class="t" style="left:22px;top:507px;transform:translateX(0.70px) scaleX(1.0716);">Cincinnati</span>
<span class="t n" style="left:313.65px;top:507px;">21.1</span>
<span class="t p" style="left:346.59px;top:506px;">(</span>
<span class="t" style="left:350.86px;top:508px;">+</span>
<span class="t n" style="left:363.12px;top:507px;">7.4</span>
<span class="t p" style="left:380.53px;top:506px;">)</span>
<span class="t n" style="left:400.35px;top:507px;">21.8</span>
<span class="t p" style="left:433.84px;top:506px;">(</span>
<span class="t" style="left:437px;top:507px;transform:translateX(0.40px) scale(1.05,0.7);transform-origin:0 11px;">±</span>
<span class="t n" style="left:450.22px;top:507px;">6.3</span>
<span class="t p" style="left:467.63px;top:506px;">)</span>
<span class="t b n" style="left:486.68px;top:507px;">21.5</span>
<span class="t p b" style="left:522.27px;top:506px;">(</span>
<span class="t b" style="left:525px;top:507px;transform:translateX(0.81px) scale(1,0.9);transform-origin:0 11px;">±</span>
<span class="t b n" style="left:532.82px;top:507px;">4.8</span>
<span class="t p b" style="left:550.30px;top:506px;">)</span>
<span class="t n" style="left:569.35px;top:507px;">46.8</span>
<span class="t p" style="left:598.94px;top:506px;">(</span>
<span class="t" style="left:602px;top:507px;transform:translateX(0.30px) scale(1.05,0.7);transform-origin:0 11px;">±</span>
<span class="t n" style="left:608.34px;top:507px;">13.4</span>
<span class="t p" style="left:632.43px;top:506px;">)</span>
</div>
<div class="tr row">
<i class="r" style="left:350px;top:535px;width:8px;height:1px"></i>
<i class="r" style="left:436px;top:535px;width:9px;height:1px"></i>
<span class="t" style="left:22px;top:523px;transform:translateX(0.70px) scaleX(1.0495);">Cleveland-Lorain-Elyria</span>
<span class="t n" style="left:313.65px;top:523px;">33.0</span>
<span class="t p" style="left:346.59px;top:522px;">(</span>
<span class="t" style="left:350.86px;top:524px;">+</span>
<span class="t n" style="left:363.12px;top:523px;">9.0</span>
<span class="t p" style="left:380.53px;top:522px;">)</span>
<span class="t n" style="left:400.35px;top:523px;">27.1</span>
<span class="t p" style="left:433.84px;top:522px;">(</span>
<span class="t" style="left:438.11px;top:524px;">+</span>
<span class="t n" style="left:450.22px;top:523px;">7.5</span>
<span class="t p" style="left:467.63px;top:522px;">)</span>
<span class="t b n" style="left:486.68px;top:523px;">29.8</span>
<span class="t p b" style="left:522.27px;top:522px;">(</span>
<span class="t b" style="left:525px;top:523px;transform:translateX(0.81px) scale(1,0.9);transform-origin:0 11px;">±</span>
<span class="t b n" style="left:532.82px;top:523px;">5.8</span>
<span class="t p b" style="left:550.30px;top:522px;">)</span>
<span class="t n" style="left:569.35px;top:523px;">34.8</span>
<span class="t p" style="left:598.94px;top:522px;">(</span>
<span class="t" style="left:602px;top:523px;transform:translateX(0.30px) scale(1.05,0.7);transform-origin:0 11px;">±</span>
<span class="t n" style="left:608.34px;top:523px;">11.9</span>
<span class="t p" style="left:632.43px;top:522px;">)</span>
</div>
<div class="tr row">
<i class="r" style="left:350px;top:550px;width:8px;height:1px"></i>
<i class="r" style="left:436px;top:550px;width:9px;height:1px"></i>
<span class="t" style="left:22px;top:538px;transform:translateX(0.70px) scaleX(1.0475);">Dayton-Springfield</span>
<span class="t n" style="left:313.65px;top:538px;">17.8</span>
<span class="t p" style="left:346.59px;top:537px;">(</span>
<span class="t" style="left:350.86px;top:539px;">+</span>
<span class="t n" style="left:363.12px;top:538px;">7.0</span>
<span class="t p" style="left:380.53px;top:537px;">)</span>
<span class="t n" style="left:400.35px;top:538px;">28.1</span>
<span class="t p" style="left:433.84px;top:537px;">(</span>
<span class="t" style="left:438.11px;top:539px;">+</span>
<span class="t n" style="left:450.22px;top:538px;">8.2</span>
<span class="t p" style="left:467.63px;top:537px;">)</span>
<span class="t b n" style="left:486.68px;top:538px;">23.2</span>
<span class="t p b" style="left:522.27px;top:537px;">(</span>
<span class="t b" style="left:525px;top:538px;transform:translateX(0.81px) scale(1,0.9);transform-origin:0 11px;">±</span>
<span class="t b n" style="left:532.82px;top:538px;">5.6</span>
<span class="t p b" style="left:550.30px;top:537px;">)</span>
<span class="t n" style="left:569.35px;top:538px;">56.6</span>
<span class="t p" style="left:598.94px;top:537px;">(</span>
<span class="t" style="left:602px;top:538px;transform:translateX(0.30px) scale(1.05,0.7);transform-origin:0 11px;">±</span>
<span class="t n" style="left:608.34px;top:538px;">15.2</span>
<span class="t p" style="left:632.43px;top:537px;">)</span>
</div>
<div class="tr row">
<i class="r" style="left:350px;top:566px;width:8px;height:1px"></i>
<i class="r" style="left:436px;top:566px;width:9px;height:1px"></i>
<span class="t" style="left:22px;top:554px;transform:translateX(0.70px) scaleX(1.0203);">Des Moines</span>
<span class="t n" style="left:313.65px;top:554px;">28.9</span>
<span class="t p" style="left:346.59px;top:553px;">(</span>
<span class="t" style="left:350.86px;top:555px;">+</span>
<span class="t n" style="left:363.12px;top:554px;">7.0</span>
<span class="t p" style="left:380.53px;top:553px;">)</span>
<span class="t n" style="left:400.35px;top:554px;">18.4</span>
<span class="t p" style="left:433.84px;top:553px;">(</span>
<span class="t" style="left:438.11px;top:555px;">+</span>
<span class="t n" style="left:450.22px;top:554px;">4.6</span>
<span class="t p" style="left:467.63px;top:553px;">)</span>
<span class="t b n" style="left:486.68px;top:554px;">23.4</span>
<span class="t p b" style="left:522.27px;top:553px;">(</span>
<span class="t b" style="left:525px;top:554px;transform:translateX(0.81px) scale(1,0.9);transform-origin:0 11px;">±</span>
<span class="t b n" style="left:532.82px;top:554px;">4.1</span>
<span class="t p b" style="left:550.30px;top:553px;">)</span>
<span class="t n" style="left:569.35px;top:554px;">50.0</span>
<span class="t p" style="left:598.94px;top:553px;">(</span>
<span class="t" style="left:602px;top:554px;transform:translateX(0.30px) scale(1.05,0.7);transform-origin:0 11px;">±</span>
<span class="t n" style="left:608.34px;top:554px;">11.1</span>
<span class="t p" style="left:632.43px;top:553px;">)</span>
</div>
<div class="tr row">
<i class="r" style="left:350px;top:581px;width:8px;height:1px"></i>
<i class="r" style="left:436px;top:581px;width:9px;height:1px"></i>
<span class="t" style="left:22px;top:569px;transform:translateX(0.70px) scaleX(1.0325);">Detroit</span>
<span class="t n" style="left:313.65px;top:569px;">25.2</span>
<span class="t p" style="left:346.59px;top:568px;">(</span>
<span class="t" style="left:350.86px;top:570px;">+</span>
<span class="t n" style="left:363.12px;top:569px;">4.6</span>
<span class="t p" style="left:380.53px;top:568px;">)</span>
<span class="t n" style="left:400.35px;top:569px;">23.5</span>
<span class="t p" style="left:433.84px;top:568px;">(</span>
<span class="t" style="left:438.11px;top:570px;">+</span>
<span class="t n" style="left:450.22px;top:569px;">4.5</span>
<span class="t p" style="left:467.63px;top:568px;">)</span>
<span class="t b n" style="left:486.68px;top:569px;">24.3</span>
<span class="t p b" style="left:522.27px;top:568px;">(</span>
<span class="t b" style="left:525px;top:569px;transform:translateX(0.81px) scale(1,0.9);transform-origin:0 11px;">±</span>
<span class="t b n" style="left:532.82px;top:569px;">3.2</span>
<span class="t p b" style="left:550.30px;top:568px;">)</span>
<span class="t n" style="left:569.35px;top:569px;">62.0</span>
<span class="t p" style="left:598.94px;top:568px;">(</span>
<span class="t" style="left:602px;top:569px;transform:translateX(0.30px) scale(1.05,0.7);transform-origin:0 11px;">±</span>
<span class="t n" style="left:615.02px;top:569px;">8.3</span>
<span class="t p" style="left:632.43px;top:568px;">)</span>
</div>
<div class="tr row">
<i class="r" style="left:350px;top:597px;width:8px;height:1px"></i>
<i class="r" style="left:436px;top:597px;width:9px;height:1px"></i>
<span class="t" style="left:22px;top:585px;transform:translateX(0.70px) scaleX(1.0101);">Fargo-Moorhead</span>
<span class="t n" style="left:313.65px;top:585px;">23.7</span>
<span class="t p" style="left:346.59px;top:584px;">(</span>
<span class="t" style="left:350.86px;top:586px;">+</span>
<span class="t n" style="left:363.12px;top:585px;">9.1</span>
<span class="t p" style="left:380.53px;top:584px;">)</span>
<span class="t n" style="left:400.35px;top:585px;">21.5</span>
<span class="t p" style="left:433.84px;top:584px;">(</span>
<span class="t" style="left:438.11px;top:586px;">+</span>
<span class="t n" style="left:450.22px;top:585px;">7.1</span>
<span class="t p" style="left:467.63px;top:584px;">)</span>
<span class="t b n" style="left:486.68px;top:585px;">22.6</span>
<span class="t p b" style="left:522.27px;top:584px;">(</span>
<span class="t b" style="left:525px;top:585px;transform:translateX(0.81px) scale(1,0.9);transform-origin:0 11px;">±</span>
<span class="t b n" style="left:532.82px;top:585px;">6.0</span>
<span class="t p b" style="left:550.30px;top:584px;">)</span>
<span class="t n" style="left:569.35px;top:585px;">49.2</span>
<span class="t p" style="left:598.94px;top:584px;">(</span>
<span class="t" style="left:602px;top:585px;transform:translateX(0.30px) scale(1.05,0.7);transform-origin:0 11px;">±</span>
<span class="t n" style="left:608.34px;top:585px;">18.1</span>
<span class="t p" style="left:632.43px;top:584px;">)</span>
</div>
<div class="tr row">
<i class="r" style="left:350px;top:612px;width:8px;height:1px"></i>
<i class="r" style="left:436px;top:612px;width:9px;height:1px"></i>
<span class="t" style="left:22px;top:600px;transform:translateX(0.70px) scaleX(1.0564);">Indianapolis</span>
<span class="t n" style="left:313.65px;top:600px;">34.5</span>
<span class="t p" style="left:346.59px;top:599px;">(</span>
<span class="t" style="left:350.86px;top:601px;">+</span>
<span class="t n" style="left:363.12px;top:600px;">5.9</span>
<span class="t p" style="left:380.53px;top:599px;">)</span>
<span class="t n" style="left:400.35px;top:600px;">26.5</span>
<span class="t p" style="left:433.84px;top:599px;">(</span>
<span class="t" style="left:438.11px;top:601px;">+</span>
<span class="t n" style="left:450.22px;top:600px;">5.0</span>
<span class="t p" style="left:467.63px;top:599px;">)</span>
<span class="t b n" style="left:486.68px;top:600px;">30.3</span>
<span class="t p b" style="left:522.27px;top:599px;">(</span>
<span class="t b" style="left:525px;top:600px;transform:translateX(0.81px) scale(1,0.9);transform-origin:0 11px;">±</span>
<span class="t b n" style="left:532.82px;top:600px;">3.9</span>
<span class="t p b" style="left:550.30px;top:599px;">)</span>
<span class="t n" style="left:569.35px;top:600px;">45.8</span>
<span class="t p" style="left:598.94px;top:599px;">(</span>
<span class="t" style="left:602px;top:600px;transform:translateX(0.30px) scale(1.05,0.7);transform-origin:0 11px;">±</span>
<span class="t n" style="left:615.02px;top:600px;">8.3</span>
<span class="t p" style="left:632.43px;top:599px;">)</span>
</div>
<div class="tr row">
<i class="r" style="left:350px;top:628px;width:8px;height:1px"></i>
<span class="t" style="left:22px;top:616px;transform:translateX(0.70px) scaleX(1.0265);">Kansas City</span>
<span class="t n" style="left:313.65px;top:616px;">27.9</span>
<span class="t p" style="left:346.59px;top:615px;">(</span>
<span class="t" style="left:350.86px;top:617px;">+</span>
<span class="t n" style="left:363.12px;top:616px;">4.5</span>
<span class="t p" style="left:380.53px;top:615px;">)</span>
<span class="t n" style="left:400.35px;top:616px;">21.8</span>
<span class="t p" style="left:433.84px;top:615px;">(</span>
<span class="t" style="left:437px;top:616px;transform:translateX(0.40px) scale(1.05,0.7);transform-origin:0 11px;">±</span>
<span class="t n" style="left:450.22px;top:616px;">3.6</span>
<span class="t p" style="left:467.63px;top:615px;">)</span>
<span class="t b n" style="left:486.68px;top:616px;">24.7</span>
<span class="t p b" style="left:522.27px;top:615px;">(</span>
<span class="t b" style="left:525px;top:616px;transform:translateX(0.81px) scale(1,0.9);transform-origin:0 11px;">±</span>
<span class="t b n" style="left:532.82px;top:616px;">2.8</span>
<span class="t p b" style="left:550.30px;top:615px;">)</span>
<span class="t n" style="left:569.35px;top:616px;">49.0</span>
<span class="t p" style="left:598.94px;top:615px;">(</span>
<span class="t" style="left:602px;top:616px;transform:translateX(0.30px) scale(1.05,0.7);transform-origin:0 11px;">±</span>
<span class="t n" style="left:615.02px;top:616px;">7.5</span>
<span class="t p" style="left:632.43px;top:615px;">)</span>
</div>
<div class="tr row">
<i class="r" style="left:350px;top:643px;width:8px;height:1px"></i>
<i class="r" style="left:436px;top:643px;width:9px;height:1px"></i>
<span class="t" style="left:22px;top:631px;transform:translateX(0.70px) scaleX(1.0739);">Lincoln</span>
<span class="t n" style="left:313.65px;top:631px;">20.8</span>
<span class="t p" style="left:346.59px;top:630px;">(</span>
<span class="t" style="left:350.86px;top:632px;">+</span>
<span class="t n" style="left:363.12px;top:631px;">5.4</span>
<span class="t p" style="left:380.53px;top:630px;">)</span>
<span class="t n" style="left:400.35px;top:631px;">18.3</span>
<span class="t p" style="left:433.84px;top:630px;">(</span>
<span class="t" style="left:438.11px;top:632px;">+</span>
<span class="t n" style="left:450.22px;top:631px;">4.8</span>
<span class="t p" style="left:467.63px;top:630px;">)</span>
<span class="t b n" style="left:486.68px;top:631px;">19.5</span>
<span class="t p b" style="left:522.27px;top:630px;">(</span>
<span class="t b" style="left:525px;top:631px;transform:translateX(0.81px) scale(1,0.9);transform-origin:0 11px;">±</span>
<span class="t b n" style="left:532.82px;top:631px;">3.6</span>
<span class="t p b" style="left:550.30px;top:630px;">)</span>
<span class="t n" style="left:569.35px;top:631px;">41.8</span>
<span class="t p" style="left:598.94px;top:630px;">(</span>
<span class="t" style="left:602px;top:631px;transform:translateX(0.30px) scale(1.05,0.7);transform-origin:0 11px;">±</span>
<span class="t n" style="left:608.34px;top:631px;">11.5</span>
<span class="t p" style="left:632.43px;top:630px;">)</span>
</div>
<div class="tr row">
<i class="r" style="left:350px;top:659px;width:8px;height:1px"></i>
<span class="t" style="left:22px;top:647px;transform:translateX(0.70px) scaleX(1.0330);">Milwaukee-Waukesha</span>
<span class="t n" style="left:313.65px;top:647px;">25.3</span>
<span class="t p" style="left:346.59px;top:646px;">(</span>
<span class="t" style="left:350.86px;top:648px;">+</span>
<span class="t n" style="left:363.12px;top:647px;">6.3</span>
<span class="t p" style="left:380.53px;top:646px;">)</span>
<span class="t n" style="left:400.35px;top:647px;">19.6</span>
<span class="t p" style="left:433.84px;top:646px;">(</span>
<span class="t" style="left:437px;top:647px;transform:translateX(0.40px) scale(1.05,0.7);transform-origin:0 11px;">±</span>
<span class="t n" style="left:450.22px;top:647px;">4.3</span>
<span class="t p" style="left:467.63px;top:646px;">)</span>
<span class="t b n" style="left:486.68px;top:647px;">22.3</span>
<span class="t p b" style="left:522.27px;top:646px;">(</span>
<span class="t b" style="left:525px;top:647px;transform:translateX(0.81px) scale(1,0.9);transform-origin:0 11px;">±</span>
<span class="t b n" style="left:532.82px;top:647px;">3.8</span>
<span class="t p b" style="left:550.30px;top:646px;">)</span>
<span class="t n" style="left:569.35px;top:647px;">52.0</span>
<span class="t p" style="left:598.94px;top:646px;">(</span>
<span class="t" style="left:602px;top:647px;transform:translateX(0.30px) scale(1.05,0.7);transform-origin:0 11px;">±</span>
<span class="t n" style="left:608.34px;top:647px;">10.6</span>
<span class="t p" style="left:632.43px;top:646px;">)</span>
</div>
<div class="tr row">
<i class="r" style="left:350px;top:674px;width:8px;height:1px"></i>
<i class="r" style="left:436px;top:674px;width:9px;height:1px"></i>
<span class="t" style="left:22px;top:662px;transform:translateX(0.70px) scaleX(1.0453);">Minneapolis-St. Paul</span>
<span class="t n" style="left:313.65px;top:662px;">20.4</span>
<span class="t p" style="left:346.59px;top:661px;">(</span>
<span class="t" style="left:350.86px;top:663px;">+</span>
<span class="t n" style="left:363.12px;top:662px;">3.3</span>
<span class="t p" style="left:380.53px;top:661px;">)</span>
<span class="t n" style="left:400.35px;top:662px;">18.6</span>
<span class="t p" style="left:433.84px;top:661px;">(</span>
<span class="t" style="left:438.11px;top:663px;">+</span>
<span class="t n" style="left:450.22px;top:662px;">3.0</span>
<span class="t p" style="left:467.63px;top:661px;">)</span>
<span class="t b n" style="left:486.68px;top:662px;">19.5</span>
<span class="t p b" style="left:522.27px;top:661px;">(</span>
<span class="t b" style="left:525px;top:662px;transform:translateX(0.81px) scale(1,0.9);transform-origin:0 11px;">±</span>
<span class="t b n" style="left:532.82px;top:662px;">2.2</span>
<span class="t p b" style="left:550.30px;top:661px;">)</span>
<span class="t n" style="left:569.35px;top:662px;">43.8</span>
<span class="t p" style="left:598.94px;top:661px;">(</span>
<span class="t" style="left:602px;top:662px;transform:translateX(0.30px) scale(1.05,0.7);transform-origin:0 11px;">±</span>
<span class="t n" style="left:615.02px;top:662px;">7.0</span>
<span class="t p" style="left:632.43px;top:661px;">)</span>
</div>
<div class="tr row">
<i class="r" style="left:350px;top:689px;width:8px;height:1px"></i>
<i class="r" style="left:436px;top:689px;width:9px;height:1px"></i>
<span class="t" style="left:22px;top:677px;transform:translateX(0.70px) scaleX(0.9631);">Omaha</span>
<span class="t n" style="left:313.65px;top:677px;">25.3</span>
<span class="t p" style="left:346.59px;top:676px;">(</span>
<span class="t" style="left:350.86px;top:678px;">+</span>
<span class="t n" style="left:363.12px;top:677px;">4.7</span>
<span class="t p" style="left:380.53px;top:676px;">)</span>
<span class="t n" style="left:400.35px;top:677px;">24.8</span>
<span class="t p" style="left:433.84px;top:676px;">(</span>
<span class="t" style="left:438.11px;top:678px;">+</span>
<span class="t n" style="left:450.22px;top:677px;">4.1</span>
<span class="t p" style="left:467.63px;top:676px;">)</span>
<span class="t b n" style="left:486.68px;top:677px;">25.0</span>
<span class="t p b" style="left:522.27px;top:676px;">(</span>
<span class="t b" style="left:525px;top:677px;transform:translateX(0.81px) scale(1,0.9);transform-origin:0 11px;">±</span>
<span class="t b n" style="left:532.82px;top:677px;">3.1</span>
<span class="t p b" style="left:550.30px;top:676px;">)</span>
<span class="t n" style="left:569.35px;top:677px;">48.9</span>
<span class="t p" style="left:598.94px;top:676px;">(</span>
<span class="t" style="left:602px;top:677px;transform:translateX(0.30px) scale(1.05,0.7);transform-origin:0 11px;">±</span>
<span class="t n" style="left:615.02px;top:677px;">8.0</span>
<span class="t p" style="left:632.43px;top:676px;">)</span>
</div>
<div class="tr row">
<i class="r" style="left:350px;top:705px;width:8px;height:1px"></i>
<span class="t" style="left:22px;top:693px;transform:translateX(0.70px) scaleX(1.0230);">Rapid City</span>
<span class="t n" style="left:313.65px;top:693px;">27.5</span>
<span class="t p" style="left:346.59px;top:692px;">(</span>
<span class="t" style="left:350.86px;top:694px;">+</span>
<span class="t n" style="left:363.12px;top:693px;">6.5</span>
<span class="t p" style="left:380.53px;top:692px;">)</span>
<span class="t n" style="left:400.35px;top:693px;">19.9</span>
<span class="t p" style="left:433.84px;top:692px;">(</span>
<span class="t" style="left:437px;top:693px;transform:translateX(0.40px) scale(1.05,0.7);transform-origin:0 11px;">±</span>
<span class="t n" style="left:450.22px;top:693px;">4.6</span>
<span class="t p" style="left:467.63px;top:692px;">)</span>
<span class="t b n" style="left:486.68px;top:693px;">23.6</span>
<span class="t p b" style="left:522.27px;top:692px;">(</span>
<span class="t b" style="left:525px;top:693px;transform:translateX(0.81px) scale(1,0.9);transform-origin:0 11px;">±</span>
<span class="t b n" style="left:532.82px;top:693px;">4.0</span>
<span class="t p b" style="left:550.30px;top:692px;">)</span>
<span class="t n" style="left:569.35px;top:693px;">49.6</span>
<span class="t p" style="left:598.94px;top:692px;">(</span>
<span class="t" style="left:602px;top:693px;transform:translateX(0.30px) scale(1.05,0.7);transform-origin:0 11px;">±</span>
<span class="t n" style="left:608.34px;top:693px;">10.8</span>
<span class="t p" style="left:632.43px;top:692px;">)</span>
</div>
<div class="tr row">
<i class="r" style="left:350px;top:721px;width:8px;height:1px"></i>
<span class="t" style="left:22px;top:709px;transform:translateX(0.70px) scaleX(1.0592);">Sioux Falls</span>
<span class="t n" style="left:313.65px;top:709px;">22.4</span>
<span class="t p" style="left:346.59px;top:708px;">(</span>
<span class="t" style="left:350.86px;top:710px;">+</span>
<span class="t n" style="left:363.12px;top:709px;">4.4</span>
<span class="t p" style="left:380.53px;top:708px;">)</span>
<span class="t n" style="left:400.35px;top:709px;">24.9</span>
<span class="t p" style="left:433.84px;top:708px;">(</span>
<span class="t" style="left:437px;top:709px;transform:translateX(0.40px) scale(1.05,0.7);transform-origin:0 11px;">±</span>
<span class="t n" style="left:450.22px;top:709px;">3.8</span>
<span class="t p" style="left:467.63px;top:708px;">)</span>
<span class="t b n" style="left:486.68px;top:709px;">23.7</span>
<span class="t p b" style="left:522.27px;top:708px;">(</span>
<span class="t b" style="left:525px;top:709px;transform:translateX(0.81px) scale(1,0.9);transform-origin:0 11px;">±</span>
<span class="t b n" style="left:532.82px;top:709px;">2.9</span>
<span class="t p b" style="left:550.30px;top:708px;">)</span>
<span class="t n" style="left:569.35px;top:709px;">48.4</span>
<span class="t p" style="left:598.94px;top:708px;">(</span>
<span class="t" style="left:602px;top:709px;transform:translateX(0.30px) scale(1.05,0.7);transform-origin:0 11px;">±</span>
<span class="t n" style="left:615.02px;top:709px;">8.1</span>
<span class="t p" style="left:632.43px;top:708px;">)</span>
</div>
<div class="tr row">
<i class="r" style="left:350px;top:736px;width:8px;height:1px"></i>
<i class="r" style="left:436px;top:736px;width:9px;height:1px"></i>
<i class="r" style="left:525px;top:736px;width:8px;height:1px"></i>
<i class="r" style="left:602px;top:736px;width:8px;height:1px"></i>
<span class="t" style="left:22px;top:724px;transform:translateX(0.70px) scaleX(1.0484);">St. Louis</span>
<span class="t n" style="left:313.65px;top:724px;">29.0</span>
<span class="t p" style="left:346.59px;top:723px;">(</span>
<span class="t" style="left:350.86px;top:725px;">+</span>
<span class="t n" style="left:363.12px;top:724px;">5.9</span>
<span class="t p" style="left:380.53px;top:723px;">)</span>
<span class="t n" style="left:400.35px;top:724px;">22.2</span>
<span class="t p" style="left:433.84px;top:723px;">(</span>
<span class="t" style="left:438.11px;top:725px;">+</span>
<span class="t n" style="left:450.22px;top:724px;">3.9</span>
<span class="t p" style="left:467.63px;top:723px;">)</span>
<span class="t b n" style="left:486.68px;top:724px;">25.5</span>
<span class="t p b" style="left:522.27px;top:723px;">(</span>
<span class="t b" style="left:525.80px;top:725px;">+</span>
<span class="t b n" style="left:532.82px;top:724px;">3.5</span>
<span class="t p b" style="left:550.30px;top:723px;">)</span>
<span class="t n" style="left:569.35px;top:724px;">46.1</span>
<span class="t p" style="left:598.94px;top:723px;">(</span>
<span class="t" style="left:603.01px;top:725px;">+</span>
<span class="t n" style="left:615.02px;top:724px;">8.9</span>
<span class="t p" style="left:632.43px;top:723px;">)</span>
</div>
<div class="tr row">
<i class="r" style="left:350px;top:751px;width:8px;height:1px"></i>
<span class="t" style="left:22px;top:739px;transform:translateX(0.70px) scaleX(0.9869);">Toledo</span>
<span class="t n" style="left:313.65px;top:739px;">34.3</span>
<span class="t p" style="left:346.59px;top:738px;">(</span>
<span class="t" style="left:350.86px;top:740px;">+</span>
<span class="t n" style="left:356.44px;top:739px;">10.4</span>
<span class="t p" style="left:380.53px;top:738px;">)</span>
<span class="t n" style="left:400.35px;top:739px;">28.4</span>
<span class="t p" style="left:433.84px;top:738px;">(</span>
<span class="t" style="left:437px;top:739px;transform:translateX(0.40px) scale(1.05,0.7);transform-origin:0 11px;">±</span>
<span class="t n" style="left:450.22px;top:739px;">7.5</span>
<span class="t p" style="left:467.63px;top:738px;">)</span>
<span class="t b n" style="left:486.68px;top:739px;">31.2</span>
<span class="t p b" style="left:522.27px;top:738px;">(</span>
<span class="t b" style="left:525px;top:739px;transform:translateX(0.81px) scale(1,0.9);transform-origin:0 11px;">±</span>
<span class="t b n" style="left:532.82px;top:739px;">6.4</span>
<span class="t p b" style="left:550.30px;top:738px;">)</span>
<span class="t n" style="left:569.35px;top:739px;">34.1</span>
<span class="t p" style="left:598.94px;top:738px;">(</span>
<span class="t" style="left:602px;top:739px;transform:translateX(0.30px) scale(1.05,0.7);transform-origin:0 11px;">±</span>
<span class="t n" style="left:608.34px;top:739px;">14.5</span>
<span class="t p" style="left:632.43px;top:738px;">)</span>
</div>
<div class="tr row">
<i class="r" style="left:350px;top:767px;width:8px;height:1px"></i>
<i class="r" style="left:436px;top:767px;width:9px;height:1px"></i>
<span class="t" style="left:22px;top:755px;transform:translateX(0.70px) scaleX(1.0676);">Wichita</span>
<span class="t n" style="left:313.65px;top:755px;">28.9</span>
<span class="t p" style="left:346.59px;top:754px;">(</span>
<span class="t" style="left:350.86px;top:756px;">+</span>
<span class="t n" style="left:363.12px;top:755px;">5.8</span>
<span class="t p" style="left:380.53px;top:754px;">)</span>
<span class="t n" style="left:400.35px;top:755px;">17.3</span>
<span class="t p" style="left:433.84px;top:754px;">(</span>
<span class="t" style="left:438.11px;top:756px;">+</span>
<span class="t n" style="left:450.22px;top:755px;">3.7</span>
<span class="t p" style="left:467.63px;top:754px;">)</span>
<span class="t b n" style="left:486.68px;top:755px;">22.9</span>
<span class="t p b" style="left:522.27px;top:754px;">(</span>
<span class="t b" style="left:525px;top:755px;transform:translateX(0.81px) scale(1,0.9);transform-origin:0 11px;">±</span>
<span class="t b n" style="left:532.82px;top:755px;">3.4</span>
<span class="t p b" style="left:550.30px;top:754px;">)</span>
<span class="t n" style="left:569.35px;top:755px;">50.5</span>
<span class="t p" style="left:598.94px;top:754px;">(</span>
<span class="t" style="left:602px;top:755px;transform:translateX(0.30px) scale(1.05,0.7);transform-origin:0 11px;">±</span>
<span class="t n" style="left:615.02px;top:755px;">9.2</span>
<span class="t p" style="left:632.43px;top:754px;">)</span>
</div>
<div class="tr row">
<i class="r" style="left:350px;top:783px;width:8px;height:1px"></i>
<span class="t" style="left:22px;top:771px;transform:translateX(0.70px) scaleX(1.0340);">Youngstown-Warren</span>
<span class="t n" style="left:313.65px;top:771px;">29.8</span>
<span class="t p" style="left:346.59px;top:770px;">(</span>
<span class="t" style="left:350.86px;top:772px;">+</span>
<span class="t n" style="left:356.44px;top:771px;">12.8</span>
<span class="t p" style="left:380.53px;top:770px;">)</span>
<span class="t n" style="left:400.35px;top:771px;">27.1</span>
<span class="t p" style="left:433.84px;top:770px;">(</span>
<span class="t" style="left:437px;top:771px;transform:translateX(0.40px) scale(1.05,0.7);transform-origin:0 11px;">±</span>
<span class="t n" style="left:443.54px;top:771px;">12.5</span>
<span class="t p" style="left:467.63px;top:770px;">)</span>
<span class="t b n" style="left:486.68px;top:771px;">28.3</span>
<span class="t p b" style="left:522.27px;top:770px;">(</span>
<span class="t b" style="left:525px;top:771px;transform:translateX(0.81px) scale(1,0.9);transform-origin:0 11px;">±</span>
<span class="t b n" style="left:532.82px;top:771px;">8.9</span>
<span class="t p b" style="left:550.30px;top:770px;">)</span>
<span class="t n" style="left:569.35px;top:771px;">53.7</span>
<span class="t p" style="left:598.94px;top:770px;">(</span>
<span class="t" style="left:602px;top:771px;transform:translateX(0.30px) scale(1.05,0.7);transform-origin:0 11px;">±</span>
<span class="t n" style="left:608.34px;top:771px;">19.2</span>
<span class="t p" style="left:632.43px;top:770px;">)</span>
</div>
<div class="tr stat">
<span class="t i" style="left:23px;top:786px;transform:translateX(0.20px) scaleX(1.0177);">Median</span>
<span class="t i n" style="left:330.22px;top:786px;">26.4</span>
<span class="t i n" style="left:420.76px;top:786px;">22.0</span>
<span class="t b i n" style="left:503.27px;top:786px;">23.7</span>
<span class="t i n" style="left:585.87px;top:786px;">49.1</span>
</div>
<div class="tr stat">
<span class="t i" style="left:23px;top:801px;transform:translateX(0.20px) scaleX(0.9423);">Range</span>
<span class="t i n" style="left:312.46px;top:801px;">17.8–34.5</span>
<span class="t i n" style="left:403.01px;top:801px;">17.3–28.4</span>
<span class="t b i n" style="left:489.06px;top:801px;">19.5–31.2</span>
<span class="t i n" style="left:567.66px;top:801px;">34.1–62.0</span>
</div>
<div class="tr grp">
<span class="t b" style="left:10px;top:819px;transform:translateX(0.20px) scaleX(0.9565);">South</span>
</div>
<div class="tr row">
<i class="r" style="left:350px;top:846px;width:8px;height:1px"></i>
<i class="r" style="left:436px;top:846px;width:9px;height:1px"></i>
<i class="r" style="left:525px;top:846px;width:8px;height:1px"></i>
<i class="r" style="left:602px;top:846px;width:8px;height:1px"></i>
<span class="t" style="left:22px;top:834px;transform:translateX(0.70px) scaleX(1.0252);">Atlanta</span>
<span class="t n" style="left:313.65px;top:834px;">23.3</span>
<span class="t p" style="left:346.59px;top:833px;">(</span>
<span class="t" style="left:350.86px;top:835px;">+</span>
<span class="t n" style="left:363.12px;top:834px;">4.7</span>
<span class="t p" style="left:380.53px;top:833px;">)</span>
<span class="t n" style="left:400.35px;top:834px;">18.1</span>
<span class="t p" style="left:433.84px;top:833px;">(</span>
<span class="t" style="left:438.11px;top:835px;">+</span>
<span class="t n" style="left:450.22px;top:834px;">3.2</span>
<span class="t p" style="left:467.63px;top:833px;">)</span>
<span class="t b n" style="left:486.68px;top:834px;">20.6</span>
<span class="t p b" style="left:522.27px;top:833px;">(</span>
<span class="t b" style="left:525.80px;top:835px;">+</span>
<span class="t b n" style="left:532.82px;top:834px;">2.8</span>
<span class="t p b" style="left:550.30px;top:833px;">)</span>
<span class="t n" style="left:569.35px;top:834px;">53.3</span>
<span class="t p" style="left:598.94px;top:833px;">(</span>
<span class="t" style="left:603.01px;top:835px;">+</span>
<span class="t n" style="left:615.02px;top:834px;">8.8</span>
<span class="t p" style="left:632.43px;top:833px;">)</span>
</div>
<div class="tr row">
<i class="r" style="left:350px;top:862px;width:8px;height:1px"></i>
<i class="r" style="left:436px;top:862px;width:9px;height:1px"></i>
<i class="r" style="left:525px;top:862px;width:8px;height:1px"></i>
<i class="r" style="left:602px;top:862px;width:8px;height:1px"></i>
<span class="t" style="left:22px;top:850px;transform:translateX(0.70px) scaleX(1.0462);">Austin-San Marcos</span>
<span class="t n" style="left:313.65px;top:850px;">29.5</span>
<span class="t p" style="left:346.59px;top:849px;">(</span>
<span class="t" style="left:350.86px;top:851px;">+</span>
<span class="t n" style="left:363.12px;top:850px;">7.9</span>
<span class="t p" style="left:380.53px;top:849px;">)</span>
<span class="t n" style="left:400.35px;top:850px;">16.7</span>
<span class="t p" style="left:433.84px;top:849px;">(</span>
<span class="t" style="left:438.11px;top:851px;">+</span>
<span class="t n" style="left:450.22px;top:850px;">6.1</span>
<span class="t p" style="left:467.63px;top:849px;">)</span>
<span class="t b n" style="left:486.68px;top:850px;">23.1</span>
<span class="t p b" style="left:522.27px;top:849px;">(</span>
<span class="t b" style="left:525.80px;top:851px;">+</span>
<span class="t b n" style="left:532.82px;top:850px;">5.0</span>
<span class="t p b" style="left:550.30px;top:849px;">)</span>
<span class="t n" style="left:569.35px;top:850px;">59.5</span>
<span class="t p" style="left:598.94px;top:849px;">(</span>
<span class="t" style="left:603.01px;top:851px;">+</span>
<span class="t n" style="left:608.34px;top:850px;">14.6</span>
<span class="t p" style="left:632.43px;top:849px;">)</span>
</div>
<div class="tfoot">
<i class="r" style="left:10px;top:863px;width:631px;height:3px"></i>
</div>
</main>
<footer class="notes">
<span class="t" style="left:11px;top:866px;transform:translateX(0.29px) scaleX(1.0700);font-size:12.01px;line-height:14px;">*</span>
<span class="t" style="left:17px;top:866px;transform:translateX(0.27px) scaleX(1.0469);font-size:12.01px;line-height:14px;">Persons</span>
<span class="t" style="left:65px;top:866px;transform:translateX(0.87px) scaleX(1.0310);font-size:12.01px;line-height:14px;">aged</span>
<span class="t" style="left:95px;top:866px;transform:translateX(0.75px) scaleX(1.0966);font-size:12.01px;line-height:14px;"><u>&gt;</u>18</span>
<span class="t" style="left:121px;top:866px;transform:translateX(0.07px) scaleX(1.0111);font-size:12.01px;line-height:14px;">years</span>
<span class="t" style="left:154px;top:866px;transform:translateX(0.32px) scaleX(1.1613);font-size:12.01px;line-height:14px;">who</span>
<span class="t" style="left:182px;top:866px;transform:translateX(0.01px) scaleX(1.1108);font-size:12.01px;line-height:14px;">reported</span>
<span class="t" style="left:233px;top:866px;transform:translateX(0.78px) scaleX(1.1050);font-size:12.01px;line-height:14px;">having</span>
<span class="t" style="left:275px;top:866px;transform:translateX(0.54px) scaleX(1.0707);font-size:12.01px;line-height:14px;">smoked</span>
<span class="t" style="left:322px;top:866px;transform:translateX(0.90px) scaleX(1.0051);font-size:12.01px;line-height:14px;"><u>&gt;</u>100</span>
<span class="t" style="left:353px;top:866px;transform:translateX(0.45px) scaleX(1.0728);font-size:12.01px;line-height:14px;">cigarettes</span>
<span class="t" style="left:415px;top:866px;transform:translateX(0.83px) scaleX(1.1222);font-size:12.01px;line-height:14px;">during</span>
<span class="t" style="left:456px;top:866px;transform:translateX(0.20px) scaleX(1.0887);font-size:12.01px;line-height:14px;">their</span>
<span class="t" style="left:484px;top:866px;transform:translateX(0.29px) scaleX(1.1247);font-size:12.01px;line-height:14px;">lifetimes</span>
<span class="t" style="left:537px;top:866px;transform:translateX(0.16px) scaleX(1.0567);font-size:12.01px;line-height:14px;">and</span>
<span class="t" style="left:561px;top:866px;transform:translateX(0.92px) scaleX(1.0498);font-size:12.01px;line-height:14px;">who</span>
<span class="t" style="left:588px;top:866px;transform:translateX(0.23px) scaleX(1.1148);font-size:12.01px;line-height:14px;">currently</span>
<span class="t" style="left:18px;top:878px;transform:translateX(0.64px) scaleX(1.0731);font-size:12.01px;line-height:14px;">smoked</span>
<span class="t" style="left:65px;top:878px;transform:translateX(0.87px) scaleX(1.0482);font-size:12.01px;line-height:14px;">every</span>
<span class="t" style="left:99px;top:878px;transform:translateX(0.70px) scaleX(0.9989);font-size:12.01px;line-height:14px;">day</span>
<span class="t" style="left:123px;top:878px;transform:translateX(0.44px) scaleX(0.9131);font-size:12.01px;line-height:14px;">or</span>
<span class="t" style="left:137px;top:878px;transform:translateX(0.53px) scaleX(1.1097);font-size:12.01px;line-height:14px;">some</span>
<span class="t" style="left:172px;top:878px;transform:translateX(0.98px) scaleX(1.0229);font-size:12.01px;line-height:14px;">days.</span>
<span class="t" style="left:10.33px;top:891px;font-size:7px;line-height:10px;">†</span>
<span class="t" style="left:18px;top:891px;transform:translateX(0.36px) scaleX(1.0509);font-size:12.01px;line-height:14px;">Confidence</span>
<span class="t" style="left:84px;top:891px;transform:translateX(0.33px) scaleX(1.0868);font-size:12.01px;line-height:14px;">interval.</span>
</footer>
</body>
</html>
